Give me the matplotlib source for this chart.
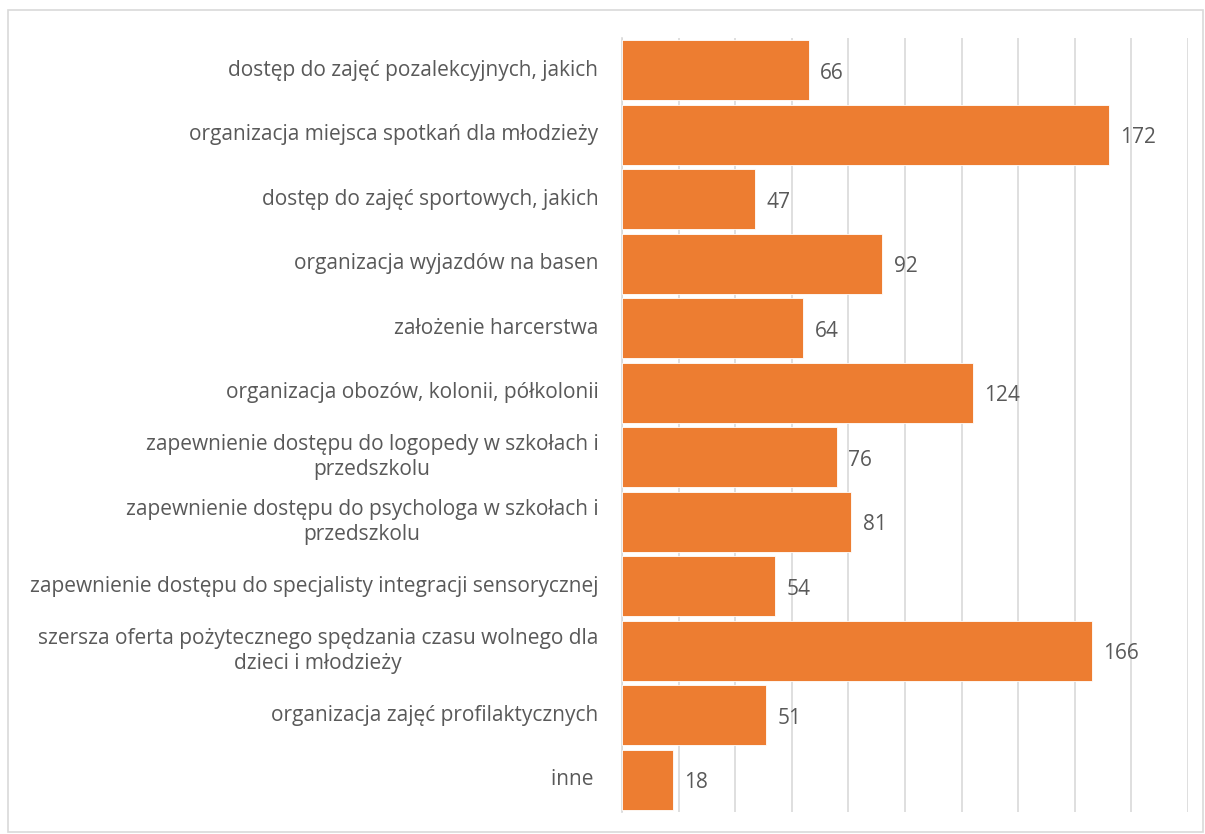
import matplotlib.pyplot as plt
from matplotlib.patches import Rectangle

categories = [
    "dostęp do zajęć pozalekcyjnych, jakich",
    "organizacja miejsca spotkań dla młodzieży",
    "dostęp do zajęć sportowych, jakich",
    "organizacja wyjazdów na basen",
    "założenie harcerstwa",
    "organizacja obozów, kolonii, półkolonii",
    "zapewnienie dostępu do logopedy w szkołach i\nprzedszkolu",
    "zapewnienie dostępu do psychologa w szkołach i\nprzedszkolu",
    "zapewnienie dostępu do specjalisty integracji sensorycznej",
    "szersza oferta pożytecznego spędzania czasu wolnego dla\ndzieci i młodzieży",
    "organizacja zajęć profilaktycznych",
    "inne ",
]
values = [66, 172, 47, 92, 64, 124, 76, 81, 54, 166, 51, 18]

plt.rcParams['font.family'] = ['Open Sans', 'DejaVu Sans']
text_col = '#595959'

fig = plt.figure(figsize=(12.05, 8.34), dpi=100)
ax = fig.add_axes([622 / 1205, 1 - 812 / 834, (1188 - 622) / 1205, (812 - 38) / 834])

pos = list(range(len(categories)))
ax.barh(pos, values, height=0.93, color='#ED7D31', edgecolor='white', linewidth=0.6, zorder=3)
ax.set_ylim(len(categories) - 0.5, -0.5)
ax.set_xlim(0, 200)
ax.set_xticks(range(0, 201, 20))
ax.set_yticks([])
ax.tick_params(axis='x', length=0, labelbottom=False)
ax.grid(axis='x', color='#D9D9D9', linewidth=1.2, zorder=0)
for s in ['top', 'right', 'bottom']:
    ax.spines[s].set_visible(False)
ax.spines['left'].set_color('#D9D9D9')
ax.spines['left'].set_linewidth(1.2)

# category labels, right-aligned to the axis, wrapped lines centred
for p, c in zip(pos, categories):
    ax.annotate(c, xy=(0, p), xycoords=('axes fraction', 'data'),
                xytext=(-17, 0), textcoords='offset points',
                ha='right', va='center', multialignment='center',
                linespacing=1.25, fontsize=15, color=text_col, annotation_clip=False)

for p, v in zip(pos, values):
    ax.text(v + 4, p + 0.05, str(v), va='center', ha='left', fontsize=15, color=text_col, zorder=4)

fig.patches.append(Rectangle((8 / 1205, 0.002), 1 - 10 / 1205, 1 - 10 / 834 - 0.002,
                             transform=fig.transFigure, fill=False,
                             edgecolor='#D9D9D9', linewidth=1.2))

fig.savefig('out.png', dpi=100)
